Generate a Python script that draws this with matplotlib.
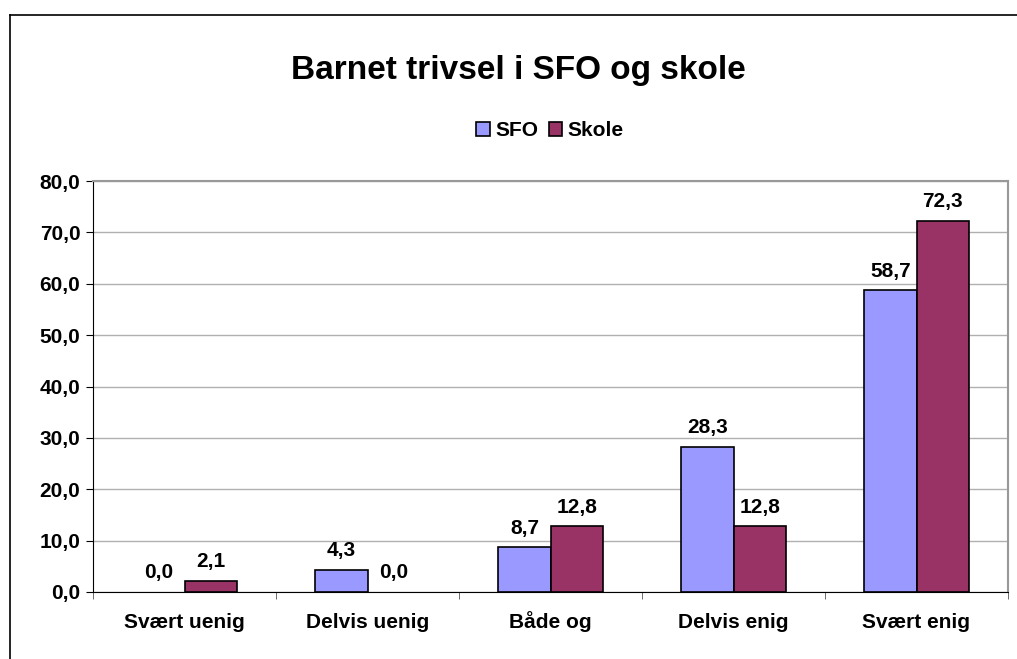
import matplotlib
matplotlib.use('Agg')
import matplotlib.pyplot as plt
import matplotlib.ticker as ticker
from matplotlib.lines import Line2D
from matplotlib.patches import Patch
import numpy as np

plt.rcParams['font.family'] = ['Liberation Sans', 'DejaVu Sans']

categories = ['Svært uenig', 'Delvis uenig', 'Både og', 'Delvis enig', 'Svært enig']
sfo = [0.0, 4.3, 8.7, 28.3, 58.7]
skole = [2.1, 0.0, 12.8, 12.8, 72.3]
series_names = ['SFO', 'Skole']
colors = ['#9999FF', '#993366']

fig = plt.figure(figsize=(10.17, 6.59), dpi=100)
ax = fig.add_axes([93 / 1017, 67 / 659, 915 / 1017, 411 / 659])

x = np.arange(len(categories))
w = 0.285
bars1 = ax.bar(x - w / 2, sfo, w, color=colors[0], edgecolor='black', linewidth=1.2, zorder=3)
bars2 = ax.bar(x + w / 2, skole, w, color=colors[1], edgecolor='black', linewidth=1.2, zorder=3)

# value labels, hide outline of empty bars
for bars, vals in ((bars1, sfo), (bars2, skole)):
    for b, v in zip(bars, vals):
        if v == 0:
            b.set_linewidth(0)
        ax.annotate(f'{v:.1f}'.replace('.', ','), (b.get_x() + b.get_width() / 2, v),
                    xytext=(0, 7), textcoords='offset points', ha='center', va='bottom',
                    fontsize=15, fontweight='bold')

ax.set_xlim(-0.5, len(categories) - 0.5)
ax.set_ylim(0, 80)
ax.yaxis.set_major_locator(ticker.MultipleLocator(10))
ax.yaxis.set_major_formatter(ticker.FuncFormatter(lambda v, p: f'{v:.1f}'.replace('.', ',')))
ax.grid(axis='y', color='#b0b0b0', linewidth=1, zorder=0)

ax.set_xticks(x)
ax.set_xticklabels(categories, fontsize=15, fontweight='bold', va='baseline')
ax.tick_params(axis='x', length=0, pad=26)
ax.set_xticks(np.arange(len(categories) + 1) - 0.5, minor=True)
ax.tick_params(axis='x', which='minor', length=5, direction='out', color='#555555')
ax.tick_params(axis='y', length=5, direction='out', labelsize=15, pad=4)
for lbl in ax.get_yticklabels():
    lbl.set_fontweight('bold')

ax.spines['left'].set_color('black')
ax.spines['bottom'].set_color('black')
ax.spines['top'].set_color('#999999')
ax.spines['right'].set_color('#999999')
ax.spines['top'].set_linewidth(1.5)
ax.spines['right'].set_linewidth(1.5)

fig.text(518 / 1017, 1 - 70 / 659, 'Barnet trivsel i SFO og skole', ha='center', va='center',
         fontsize=24, fontweight='bold')

handles = [Patch(facecolor=c, edgecolor='black', linewidth=1.2) for c in colors]
leg = fig.legend(handles=handles, labels=series_names, loc='center',
                 bbox_to_anchor=(550 / 1017, 1 - 131 / 659), ncol=2, frameon=False,
                 prop={'size': 15, 'weight': 'bold'}, handlelength=0.65, handleheight=0.65,
                 handletextpad=0.25, columnspacing=0.5)

# outer chart border (left and top visible)
fig.add_artist(Line2D([10 / 1017, 10 / 1017], [0, 1 - 15 / 659], color='black', linewidth=1.2))
fig.add_artist(Line2D([10 / 1017, 1], [1 - 15 / 659, 1 - 15 / 659], color='black', linewidth=1.2))

fig.savefig('out.png', dpi=100)
